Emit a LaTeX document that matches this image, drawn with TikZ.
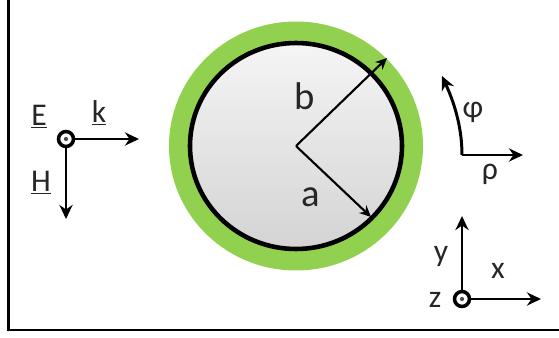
\documentclass[tikz,border=0pt]{standalone}
\usepackage{fontspec}
\setmainfont{Carlito}
\usetikzlibrary{arrows.meta,shapes.geometric}
\definecolor{shellgreen}{RGB}{146,208,80}
\tikzset{
	axis/.style = {draw=black, line width=1.7pt, -{Stealth[length=8pt,width=7.5pt]}},
	radius line/.style = {draw=black, line width=1.2pt, -{Stealth[length=6.5pt,width=6pt]}},
	label/.style = {inner sep=0pt, text=black!85, font=\fontsize{18}{18}\selectfont},
	big label/.style = {inner sep=0pt, text=black!85, font=\fontsize{22}{22}\selectfont},
	ring/.style = {circle, draw=black, line width=2pt, fill=white, minimum size=8.5pt, inner sep=0pt},
	dot/.style = {circle, fill=black!70, minimum size=2.4pt, inner sep=0pt}
}
\begin{document}
\begin{tikzpicture}[x=0.02cm, y=-0.02cm]
	\useasboundingbox (0,0) rectangle (559,338);
	\draw[line width=1.7pt] (8.5,0) -- (8.5,330) -- (559,330);
	% shell and core
	\node (shell) [ellipse, fill=shellgreen, minimum width=254*0.02cm, minimum height=249*0.02cm, inner sep=0pt] at (296,146) {};
	\node (core) [ellipse, draw=black, line width=2.6pt, top color=white!96!black, bottom color=black!17, minimum width=212*0.02cm, minimum height=206*0.02cm, inner sep=0pt] at (296,146) {};
	\coordinate (centre) at (296,146);
	\coordinate (bEnd) at (387,58);
	\coordinate (aEnd) at (371,217);
	\draw[radius line] (centre) -- (bEnd);
	\draw[radius line] (centre) -- (aEnd);
	\node (b) [big label] at (305,96) {b};
	\node (a) [big label] at (311,197) {a};
	% incident field
	\node (fieldRing) [ring] at (66,139) {};
	\node (fieldDot) [dot] at (66,139) {};
	\coordinate (kEnd) at (139,139);
	\coordinate (hEnd) at (66,219);
	\draw[axis] (fieldRing) -- (kEnd);
	\draw[axis] (fieldRing) -- (hEnd);
	\node (E) [label] at (39,117) {\underline{E}};
	\node (k) [label] at (99,113) {\underline{k}};
	\node (H) [label] at (41,183) {\underline{H}};
	% cylindrical axes
	\coordinate (polarCorner) at (462,155);
	\coordinate (rhoEnd) at (523,155);
	\coordinate (phiEnd) at (442,76);
	\draw[axis] (polarCorner) -- (rhoEnd);
	\draw[axis] (polarCorner) .. controls (462,125) and (453,100) .. (phiEnd);
	\node (phi) [label] at (473,112) {φ};
	\node (rho) [label] at (490,174) {ρ};
	% cartesian axes
	\node (axisRing) [ring] at (462,299) {};
	\node (axisDot) [dot] at (462,299) {};
	\coordinate (xEnd) at (541,299);
	\coordinate (yEnd) at (462,216);
	\draw[axis] (axisRing) -- (xEnd);
	\draw[axis] (axisRing) -- (yEnd);
	\node (y) [label] at (441,256) {y};
	\node (x) [label] at (498,271) {x};
	\node (z) [label] at (435,300) {z};
\end{tikzpicture}
\end{document}
